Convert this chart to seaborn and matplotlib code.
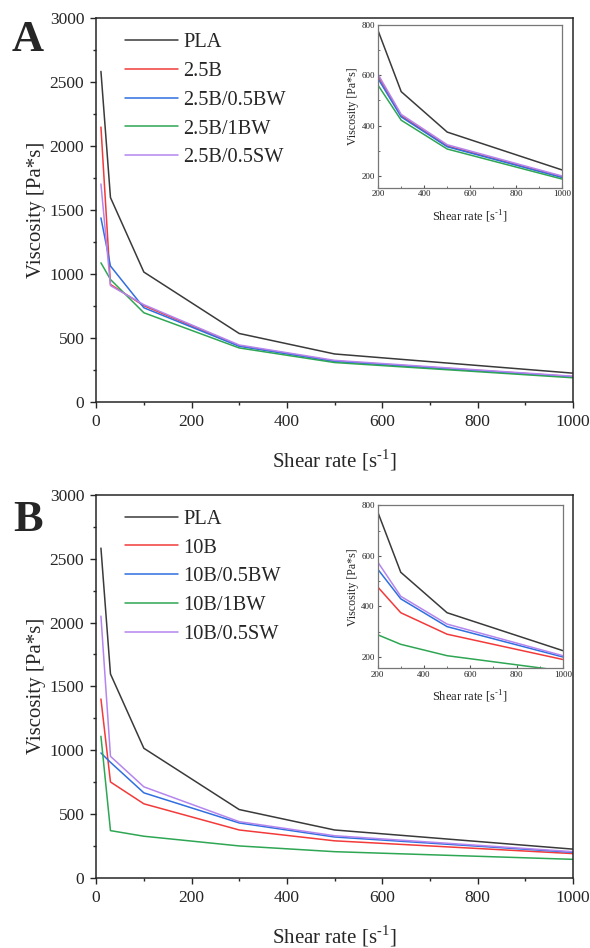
import numpy as np
import pandas as pd
import seaborn as sns
import matplotlib.pyplot as plt
from matplotlib.ticker import MultipleLocator

# style first, then fonts (set_style resets font.family)
sns.set_style('ticks')
plt.rcParams['font.family'] = ['Liberation Serif', 'DejaVu Serif']
plt.rcParams['mathtext.fontset'] = 'custom'
plt.rcParams['mathtext.rm'] = 'Liberation Serif'

# shear rates shared by every series
shear = [10, 30, 100, 300, 500, 1000]

# panel A
names_a = ['PLA', '2.5B', '2.5B/0.5BW', '2.5B/1BW', '2.5B/0.5SW']
pla = [2583, 1597, 1015, 535, 375, 225]
b25 = [2148, 918, 752, 440, 320, 198]
b25_05bw = [1438, 1062, 736, 435, 317, 195]
b25_1bw = [1087, 957, 697, 422, 308, 189]
b25_05sw = [1703, 909, 760, 445, 325, 201]

# panel B
names_b = ['PLA', '10B', '10B/0.5BW', '10B/1BW', '10B/0.5SW']
b10 = [1401, 751, 580, 375, 290, 190]
b10_05bw = [978, 905, 666, 430, 320, 200]
b10_1bw = [1109, 370, 326, 250, 205, 145]
b10_05sw = [2050, 952, 713, 440, 330, 205]

colors = ['#3a3a3a', '#f23a3a', '#2f6fe0', '#2ea653', '#b585ee']

xlab = r'Shear rate [s$^{\text{-1}}$]'


def make_frame(names, series):
    rows = []
    for name, vals in zip(names, series):
        for x, y in zip(shear, vals):
            rows.append({'Shear': x, 'Viscosity': y, 'Sample': name})
    return pd.DataFrame(rows)


def draw_panel(fig, rect, inset_rect, names, series, letter, letter_y):
    df = make_frame(names, series)
    pal = dict(zip(names, colors))

    ax = fig.add_axes(rect)
    sns.lineplot(data=df, x='Shear', y='Viscosity', hue='Sample',
                 hue_order=names, palette=pal, linewidth=1.1, ax=ax)
    ax.set_xlim(0, 1000)
    ax.set_ylim(0, 3000)
    ax.xaxis.set_major_locator(MultipleLocator(200))
    ax.xaxis.set_minor_locator(MultipleLocator(100))
    ax.yaxis.set_major_locator(MultipleLocator(500))
    ax.yaxis.set_minor_locator(MultipleLocator(250))
    ax.tick_params(which='major', labelsize=12.5, length=4.5, width=1, pad=4)
    ax.tick_params(which='minor', length=2.5, width=1)
    for s in ax.spines.values():
        s.set_linewidth(1.1)
    ax.set_xlabel(xlab, fontsize=15)
    ax.xaxis.set_label_coords(0.5, -0.118)
    ax.set_ylabel('Viscosity [Pa*s]', fontsize=15, labelpad=3)
    ax.legend(loc='upper left', bbox_to_anchor=(0.06, 0.962), frameon=False,
              fontsize=14.7, handlelength=2.6, handletextpad=0.25,
              labelspacing=0.47, borderpad=0, borderaxespad=0)

    # zoomed inset of the tail
    ins = fig.add_axes(inset_rect)
    sns.lineplot(data=df, x='Shear', y='Viscosity', hue='Sample',
                 hue_order=names, palette=pal, linewidth=1.1, ax=ins,
                 legend=False)
    ins.set_xlim(200, 1000)
    ins.set_ylim(155, 800)
    ins.xaxis.set_major_locator(MultipleLocator(200))
    ins.xaxis.set_minor_locator(MultipleLocator(100))
    ins.yaxis.set_major_locator(MultipleLocator(200))
    ins.yaxis.set_minor_locator(MultipleLocator(100))
    ins.tick_params(which='both', direction='in', labelsize=6.5, length=2.5,
                    pad=2, colors='#555555', labelcolor='#222222')
    ins.tick_params(which='minor', length=1.5)
    for s in ins.spines.values():
        s.set_color('#777777')
        s.set_linewidth(0.9)
    ins.set_xlabel(xlab, fontsize=9, labelpad=7)
    ins.set_ylabel('Viscosity [Pa*s]', fontsize=8.6, labelpad=2)

    fig.text(0.047, letter_y, letter, fontsize=32, fontweight='bold',
             ha='center', va='center')


fig = plt.figure(figsize=(5.9, 9.48), dpi=100)

draw_panel(fig, [0.163, 0.576, 0.808, 0.405], [0.641, 0.802, 0.312, 0.172],
           names_a, [pla, b25, b25_05bw, b25_1bw, b25_05sw], 'A', 0.958)
draw_panel(fig, [0.163, 0.074, 0.808, 0.404], [0.640, 0.295, 0.314, 0.172],
           names_b, [pla, b10, b10_05bw, b10_1bw, b10_05sw], 'B', 0.451)

fig.savefig('out.png', dpi=100)
